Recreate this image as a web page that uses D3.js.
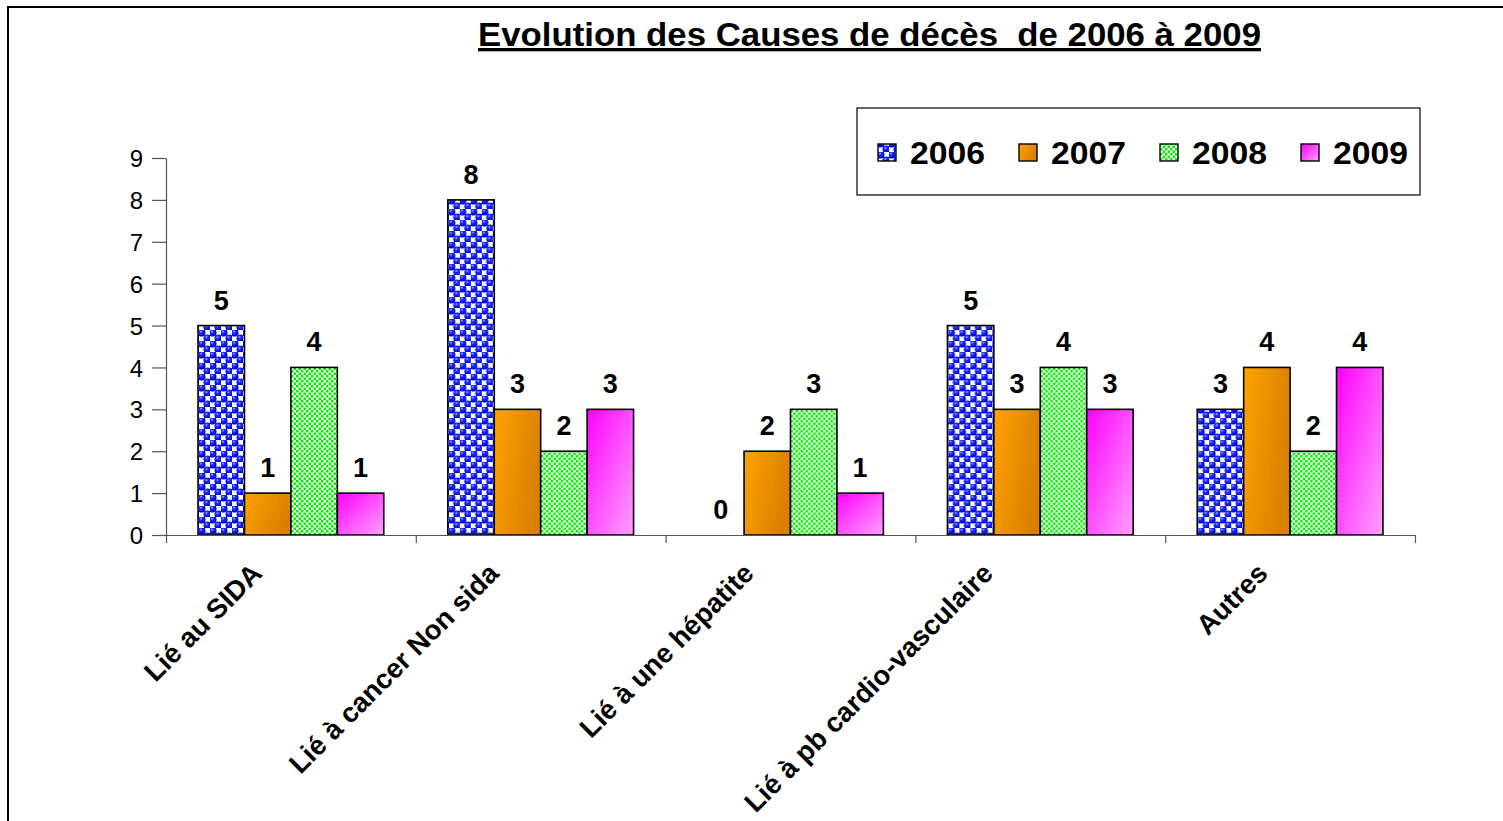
<!DOCTYPE html>
<html lang="fr">
  <head>
    <meta charset="UTF-8" />
    <title>Evolution des Causes de décès</title>
    <script src="https://d3js.org/d3.v7.min.js"></script>
    <style>
      body { margin: 0; background: #fff; }
      svg { display: block; font-family: "Liberation Sans", Arial, sans-serif; }
      .axis text { font-size: 24px; fill: #000; }
      .axis path, .axis line { stroke: #555; stroke-width: 1.2; }
    </style>
  </head>
  <body>
    <svg id="chart" width="1503" height="821"></svg>
    <script>
      // données
      const categories = ["Lié au SIDA", "Lié à cancer Non sida", "Lié à une hépatite", "Lié à pb cardio-vasculaire", "Autres"];
      const years = ["2006", "2007", "2008", "2009"];
      const v2006 = [5, 8, 0, 5, 3];
      const v2007 = [1, 3, 2, 3, 4];
      const v2008 = [4, 2, 3, 4, 2];
      const v2009 = [1, 3, 1, 3, 4];
      const yTicks = [0, 1, 2, 3, 4, 5, 6, 7, 8, 9];

      const series = [v2006, v2007, v2008, v2009];
      const rows = categories.map((c, i) => ({
        cat: c,
        vals: years.map((y, j) => ({ year: y, value: series[j][i] }))
      }));

      const width = 1503, height = 821;
      const margin = { top: 158, right: 88, bottom: 286, left: 166 };

      const svg = d3.select("#chart");
      const defs = svg.append("defs");

      // motif 2006 : billes bleues en damier
      const pBlue = defs.append("pattern").attr("id", "p2006")
        .attr("patternUnits", "userSpaceOnUse").attr("width", 11).attr("height", 11);
      const rg = defs.append("radialGradient").attr("id", "ball").attr("cx", "40%").attr("cy", "35%").attr("r", "60%");
      rg.append("stop").attr("offset", "0%").attr("stop-color", "#b8c4ff");
      rg.append("stop").attr("offset", "30%").attr("stop-color", "#2030ff");
      rg.append("stop").attr("offset", "100%").attr("stop-color", "#0000d0");
      pBlue.append("rect").attr("width", 11).attr("height", 11).attr("fill", "#fff");
      pBlue.append("rect").attr("width", 5.5).attr("height", 5.5).attr("fill", "#1a1aff");
      pBlue.append("rect").attr("x", 5.5).attr("y", 5.5).attr("width", 5.5).attr("height", 5.5).attr("fill", "#1a1aff");
      [[2.75, 2.75], [8.25, 8.25]].forEach(([cx, cy]) => {
        pBlue.append("circle").attr("cx", cx).attr("cy", cy).attr("r", 3.8).attr("fill", "url(#ball)");
      });

      // motif 2008 : damier vert fin
      const pGreen = defs.append("pattern").attr("id", "p2008")
        .attr("patternUnits", "userSpaceOnUse").attr("width", 5).attr("height", 5);
      pGreen.append("rect").attr("width", 5).attr("height", 5).attr("fill", "#fff");
      pGreen.append("rect").attr("width", 2.5).attr("height", 2.5).attr("fill", "#00f000");
      pGreen.append("rect").attr("x", 2.5).attr("y", 2.5).attr("width", 2.5).attr("height", 2.5).attr("fill", "#00f000");

      // dégradés 2007 et 2009
      const gOr = defs.append("linearGradient").attr("id", "p2007")
        .attr("x1", 0).attr("y1", 0).attr("x2", 1).attr("y2", 0.35);
      gOr.append("stop").attr("offset", "0%").attr("stop-color", "#ffa200");
      gOr.append("stop").attr("offset", "100%").attr("stop-color", "#d98000");
      const gPk = defs.append("linearGradient").attr("id", "p2009")
        .attr("x1", 0).attr("y1", 0).attr("x2", 1).attr("y2", 1);
      gPk.append("stop").attr("offset", "0%").attr("stop-color", "#ff00ff");
      gPk.append("stop").attr("offset", "100%").attr("stop-color", "#ffa0ff");

      const fills = { "2006": "url(#p2006)", "2007": "url(#p2007)", "2008": "url(#p2008)", "2009": "url(#p2009)" };

      // cadre
      svg.append("rect").attr("x", 8).attr("y", 7).attr("width", 1600).attr("height", 900)
        .attr("fill", "none").attr("stroke", "#000").attr("stroke-width", 2);

      // échelles
      const x0 = d3.scaleBand().domain(categories)
        .range([margin.left, width - margin.right]).padding(0);
      const x1 = d3.scaleBand().domain(years)
        .range([0, x0.bandwidth()]).paddingInner(0).paddingOuter(0.69);
      const y = d3.scaleLinear().domain([0, 9]).range([height - margin.bottom, margin.top]);
      const xEdges = d3.scaleLinear().domain([0, categories.length]).range(x0.range());

      // axe Y
      svg.append("g").attr("class", "axis")
        .attr("transform", `translate(${margin.left},0)`)
        .call(d3.axisLeft(y).tickValues(yTicks).tickSize(14).tickSizeOuter(0).tickPadding(9))
        .selectAll("text").attr("dy", "0.36em");

      // barres
      const groups = svg.append("g").selectAll("g").data(rows).join("g")
        .attr("transform", d => `translate(${x0(d.cat)},0)`);
      groups.selectAll("rect").data(d => d.vals.filter(v => v.value > 0)).join("rect")
        .attr("x", d => x1(d.year))
        .attr("y", d => y(d.value))
        .attr("width", x1.bandwidth())
        .attr("height", d => y(0) - y(d.value))
        .attr("fill", d => fills[d.year])
        .attr("stroke", "#000").attr("stroke-width", 1.6);

      // étiquettes de valeurs
      groups.selectAll("text").data(d => d.vals).join("text")
        .attr("x", d => x1(d.year) + x1.bandwidth() / 2)
        .attr("y", d => y(d.value) - 16)
        .attr("text-anchor", "middle")
        .attr("font-size", 27).attr("font-weight", "bold")
        .text(d => d.value);

      // axe X
      svg.append("g").attr("class", "axis")
        .attr("transform", `translate(0,${y(0)})`)
        .call(d3.axisBottom(xEdges).ticks(categories.length).tickSize(8).tickSizeOuter(0).tickFormat(""));

      // libellés des catégories, inclinés
      const catLabels = svg.append("g").selectAll("text").data(categories).join("text")
        .attr("font-size", 27.5).attr("font-weight", "bold")
        .attr("text-anchor", "end")
        .text(d => d);
      catLabels.each(function (d) {
        const L = this.getComputedTextLength();
        const cx = x0(d) + x0.bandwidth() / 2 - (12 + 0.1 * L);
        d3.select(this).attr("transform", `translate(${cx},${y(0) + 40}) rotate(-45)`);
      });

      // titre
      svg.append("text")
        .attr("x", 478).attr("y", 46)
        .attr("font-size", 33).attr("font-weight", "bold")
        .attr("text-decoration", "underline")
        .attr("textLength", 783).attr("lengthAdjust", "spacingAndGlyphs")
        .style("white-space", "pre")
        .text("Evolution des Causes de décès  de 2006 à 2009");

      // légende
      const legend = svg.append("g").attr("transform", "translate(857,108)");
      legend.append("rect").attr("width", 563).attr("height", 87)
        .attr("fill", "#fff").attr("stroke", "#000").attr("stroke-width", 1.2);
      const items = legend.selectAll("g").data(years).join("g")
        .attr("transform", (d, i) => `translate(${21 + i * 141},0)`);
      items.append("rect").attr("y", 36).attr("width", 18).attr("height", 17)
        .attr("fill", d => fills[d]).attr("stroke", "#000").attr("stroke-width", 1.4);
      items.append("text").attr("x", 32).attr("y", 56)
        .attr("font-size", 31).attr("font-weight", "bold")
        .attr("textLength", 75).attr("lengthAdjust", "spacingAndGlyphs")
        .text(d => d);
    </script>
  </body>
</html>
